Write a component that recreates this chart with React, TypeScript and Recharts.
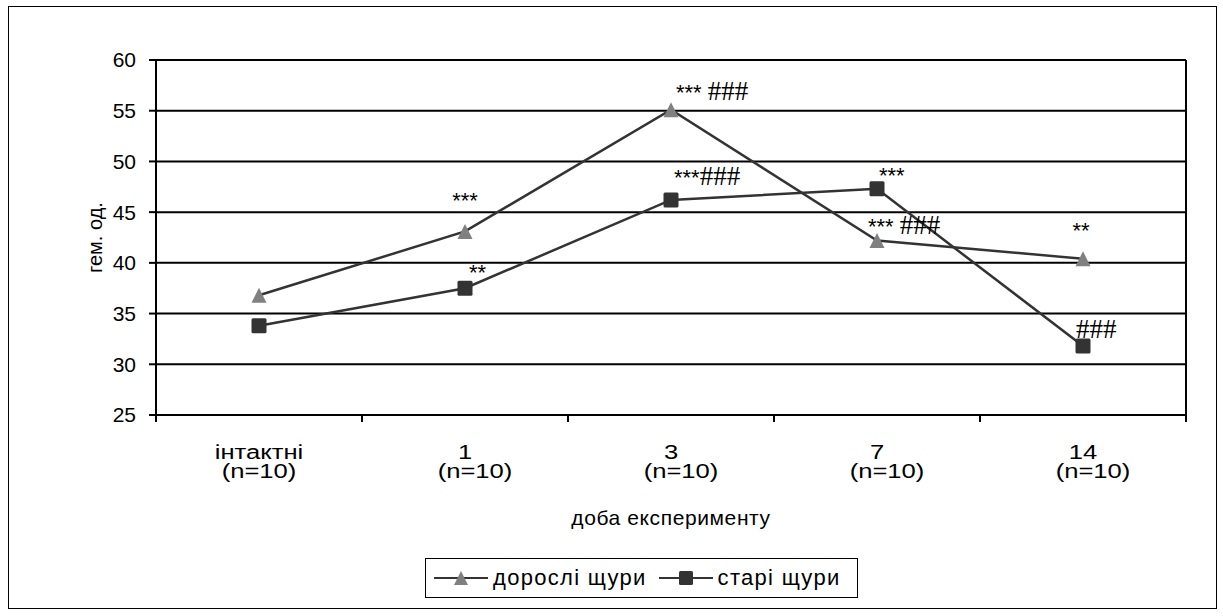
import {
  LineChart,
  Line,
  XAxis,
  YAxis,
  CartesianGrid,
  ReferenceLine,
  LabelList,
} from "recharts"

const CATEGORIES = ["інтактні", "1", "3", "7", "14"]
const GROUP_SIZES = ["(n=10)", "(n=10)", "(n=10)", "(n=10)", "(n=10)"]
const ADULT = [36.8, 43.1, 55.1, 42.2, 40.4]
const OLD = [33.8, 37.5, 46.2, 47.3, 31.8]
// significance marks printed next to each point
const ADULT_MARKS = ["", "***", "*** ###", "*** ###", "**"]
const OLD_MARKS = ["", "**", "***###", "***", "###"]
const Y_TICKS = [25, 30, 35, 40, 45, 50, 55, 60]
const BOUNDARY_TICKS = [0, 1, 2, 3, 4, 5]
const SERIES_NAMES = ["дорослі щури", "старі щури"]
const X_TITLE = "доба експерименту"
const Y_TITLE = "гем. од."

// label placement relative to the point: [dx, dy, anchor]
const ADULT_MARK_POS: [number, number, string][] = [
  [0, 0, "middle"],
  [0, -23, "middle"],
  [5, -10, "start"],
  [-9, -7, "start"],
  [-2, -21, "middle"],
]
const OLD_MARK_POS: [number, number, string][] = [
  [0, 0, "middle"],
  [4, -8, "start"],
  [3, -15, "start"],
  [2, -6, "start"],
  [-7, -8, "start"],
]

const FONT = "Arial, 'Liberation Sans', sans-serif"
const LINE_COLOR = "#333333"
const TRIANGLE_FILL = "#808080"
const SQUARE_FILL = "#333333"
// category captions are drawn a bit wide
const TICK_STRETCH = 1.28

const data = CATEGORIES.map((c, i) => ({
  pos: i + 0.5,
  adult: ADULT[i],
  old: OLD[i],
}))

function Triangle({ cx, cy, size = 15 }: { cx: number; cy: number; size?: number }) {
  const h = size / 2
  return (
    <polygon
      points={`${cx},${cy - h} ${cx + h},${cy + h} ${cx - h},${cy + h}`}
      fill={TRIANGLE_FILL}
    />
  )
}

function Square({ cx, cy, size = 15 }: { cx: number; cy: number; size?: number }) {
  return (
    <rect
      x={cx - size / 2}
      y={cy - size / 2}
      width={size}
      height={size}
      rx={1.5}
      fill={SQUARE_FILL}
    />
  )
}

// asterisks in sans, hashes in a larger serif face
function markRuns(mark: string) {
  const runs: { text: string; hash: boolean }[] = []
  for (const ch of mark) {
    const hash = ch === "#"
    const last = runs[runs.length - 1]
    if (last && last.hash === hash) last.text += ch
    else runs.push({ text: ch, hash })
  }
  return runs
}

function makeMarkLabel(marks: string[], pos: [number, number, string][]) {
  return (props: any) => {
    const { x, y, index } = props
    const mark = marks[index]
    if (!mark) return null
    const [dx, dy, anchor] = pos[index]
    return (
      <text
        x={x + dx}
        y={y + dy}
        textAnchor={anchor as any}
        fill="#000"
        style={{ whiteSpace: "pre" }}
      >
        {markRuns(mark).map((r, k) =>
          r.hash ? (
            <tspan key={k} fontFamily="'Liberation Serif', 'Times New Roman', serif" fontSize={27}>
              {r.text}
            </tspan>
          ) : (
            <tspan key={k} fontFamily={FONT} fontSize={22}>
              {r.text}
            </tspan>
          ),
        )}
      </text>
    )
  }
}

function CategoryTick(props: any) {
  const { x, y, payload } = props
  const i = Math.round(payload.value - 0.5)
  // the "(n=10)" line sits slightly right under the day numbers
  const shift = i === 0 ? 0 : 10 / TICK_STRETCH
  return (
    <g transform={`translate(${x},${y}) scale(${TICK_STRETCH},1)`}>
      <text x={0} y={0} textAnchor="middle" fontFamily={FONT} fontSize={20} fill="#000">
        <tspan x={0} dy={35}>
          {CATEGORIES[i]}
        </tspan>
        <tspan x={shift} dy={19}>
          {GROUP_SIZES[i]}
        </tspan>
      </text>
    </g>
  )
}

function YTitle(props: any) {
  const { x, y, height } = props.viewBox
  const cx = x + 9
  const cy = y + height / 2
  return (
    <text
      x={cx}
      y={cy}
      transform={`rotate(-90, ${cx}, ${cy})`}
      textAnchor="middle"
      dominantBaseline="central"
      fontFamily={FONT}
      fontSize={20}
      fill="#000"
    >
      {Y_TITLE}
    </text>
  )
}

function XTitle(props: any) {
  const { x, y, width, height } = props.viewBox
  return (
    <text
      x={x + width / 2}
      y={y + height - 3}
      textAnchor="middle"
      fontFamily={FONT}
      fontSize={21}
      letterSpacing={0.6}
      fill="#000"
    >
      {X_TITLE}
    </text>
  )
}

function LegendBox() {
  return (
    <div
      style={{
        position: "absolute",
        left: 425,
        top: 558,
        width: 433,
        height: 40,
        border: "1.5px solid #000",
        display: "flex",
        alignItems: "center",
        fontFamily: FONT,
        fontSize: 22,
        letterSpacing: 1.3,
        color: "#000",
        boxSizing: "border-box",
        whiteSpace: "nowrap",
      }}
    >
      <svg width={54} height={20} style={{ marginLeft: 8 }}>
        <line x1={0} y1={10} x2={54} y2={10} stroke={LINE_COLOR} strokeWidth={2} />
        <Triangle cx={27} cy={10} size={14} />
      </svg>
      <span style={{ marginLeft: 5 }}>{SERIES_NAMES[0]}</span>
      <svg width={54} height={20} style={{ marginLeft: 12 }}>
        <line x1={0} y1={10} x2={54} y2={10} stroke={LINE_COLOR} strokeWidth={2} />
        <Square cx={27} cy={10} size={14} />
      </svg>
      <span style={{ marginLeft: 5 }}>{SERIES_NAMES[1]}</span>
    </div>
  )
}

export default function App() {
  return (
    <div
      style={{
        position: "absolute",
        left: 0,
        top: 0,
        width: 1223,
        height: 616,
        background: "#fff",
      }}
    >
      <div
        style={{
          position: "absolute",
          left: 8,
          top: 6,
          width: 1209,
          height: 603,
          border: "1.5px solid #000",
          boxSizing: "border-box",
        }}
      />
      <LineChart
        width={1223}
        height={616}
        data={data}
        margin={{ top: 60, right: 37, left: 86, bottom: 88 }}
        style={{ position: "absolute", left: 0, top: 0 }}
      >
        <CartesianGrid xAxisId="cats" vertical={false} stroke="#000" strokeWidth={2} />
        <XAxis
          xAxisId="bounds"
          type="number"
          dataKey="pos"
          domain={[0, 5]}
          ticks={BOUNDARY_TICKS}
          tick={() => <g />}
          tickSize={7}
          height={1}
          axisLine={{ stroke: "#000", strokeWidth: 2 }}
          tickLine={{ stroke: "#000", strokeWidth: 2 }}
        />
        <XAxis
          xAxisId="cats"
          type="number"
          dataKey="pos"
          domain={[0, 5]}
          ticks={data.map((d) => d.pos)}
          tick={<CategoryTick />}
          tickLine={false}
          axisLine={false}
          height={112}
          label={{ content: XTitle }}
        />
        <YAxis
          type="number"
          domain={[25, 60]}
          ticks={Y_TICKS}
          width={70}
          tickSize={7}
          tickMargin={13}
          axisLine={{ stroke: "#000", strokeWidth: 2 }}
          tickLine={{ stroke: "#000", strokeWidth: 2 }}
          tick={{ fontFamily: FONT, fontSize: 21, fill: "#000" }}
          label={{ content: YTitle }}
        />
        <ReferenceLine xAxisId="cats" x={5} stroke="#000" strokeWidth={2} />
        <Line
          xAxisId="cats"
          dataKey="adult"
          name={SERIES_NAMES[0]}
          stroke={LINE_COLOR}
          strokeWidth={2.5}
          dot={(p: any) => <Triangle key={`a${p.index}`} cx={p.cx} cy={p.cy} />}
          activeDot={false}
          isAnimationActive={false}
        >
          <LabelList dataKey="adult" content={makeMarkLabel(ADULT_MARKS, ADULT_MARK_POS)} />
        </Line>
        <Line
          xAxisId="cats"
          dataKey="old"
          name={SERIES_NAMES[1]}
          stroke={LINE_COLOR}
          strokeWidth={2.5}
          dot={(p: any) => <Square key={`o${p.index}`} cx={p.cx} cy={p.cy} />}
          activeDot={false}
          isAnimationActive={false}
        >
          <LabelList dataKey="old" content={makeMarkLabel(OLD_MARKS, OLD_MARK_POS)} />
        </Line>
      </LineChart>
      <LegendBox />
    </div>
  )
}
